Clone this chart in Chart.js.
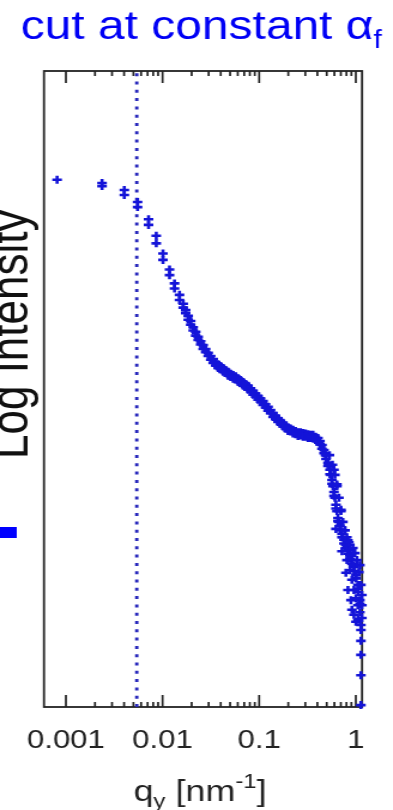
<!DOCTYPE html>
<html>
<head>
<meta charset="utf-8">
<script src="https://cdn.jsdelivr.net/npm/chart.js@4.4.1/dist/chart.umd.min.js"></script>
<style>
  html, body { margin: 0; padding: 0; background: #fff; overflow: hidden; }
  /* the source slide is stretched sideways, so the canvas is too */
  #chart { display: block; transform: scaleX(1.198); transform-origin: 0 0; }
</style>
</head>
<body>
<canvas id="chart" width="328" height="810"></canvas>
<script>
// q_y [nm^-1] of each measured point
const qValues = [
    0.000811, 0.002366, 0.002366, 0.004022, 0.004022, 0.005516, 0.005516, 0.007166, 0.007166, 0.008608,
    0.008608, 0.01010, 0.01010, 0.01181, 0.01181, 0.01330, 0.01330, 0.01498, 0.01498,
    // upper side of the dense band
    0.01636, 0.01737, 0.01843, 0.01956, 0.02076, 0.02203, 0.02337, 0.02481, 0.02633, 0.02795,
    0.02966, 0.03148, 0.03341, 0.03546, 0.03763, 0.03993, 0.04238, 0.04498, 0.04774, 0.05066,
    0.05377, 0.05706, 0.06056, 0.06427, 0.06821, 0.07239, 0.07682, 0.08153, 0.08652, 0.09182,
    0.09741, 0.1034, 0.1097, 0.1164, 0.1236, 0.1311, 0.1392, 0.1477, 0.1567, 0.1664,
    0.1765, 0.1873, 0.1988, 0.2110, 0.2239, 0.2377, 0.2522, 0.2677, 0.2841, 0.3015,
    0.3200, 0.3396, 0.3604, 0.3825, 0.4060, 0.4257, 0.4465, 0.4683, 0.4911, 0.5150,
    0.5401, 0.5664, 0.5940, 0.6229, 0.6533, 0.6851, 0.7185, 0.7535, 0.7902, 0.8287,
    0.8691, 0.9114, 0.9558, 1.0024, 1.0512, 1.1025,
    // lower side of the dense band
    0.01636, 0.01737, 0.01843, 0.01956, 0.02076, 0.02203, 0.02337, 0.02481, 0.02633, 0.02795,
    0.02966, 0.03148, 0.03341, 0.03546, 0.03763, 0.03993, 0.04238, 0.04498, 0.04774, 0.05066,
    0.05377, 0.05706, 0.06056, 0.06427, 0.06821, 0.07239, 0.07682, 0.08153, 0.08652, 0.09182,
    0.09741, 0.1034, 0.1097, 0.1164, 0.1236, 0.1311, 0.1392, 0.1477, 0.1567, 0.1664,
    0.1765, 0.1873, 0.1988, 0.2110, 0.2239, 0.2377, 0.2522, 0.2677, 0.2841, 0.3015,
    0.3200, 0.3396, 0.3604, 0.3825, 0.4060, 0.4257, 0.4465, 0.4683, 0.4911, 0.5150,
    0.5401, 0.5664, 0.5940, 0.6229, 0.6533, 0.6851, 0.7185, 0.7535, 0.7902, 0.8287,
    0.8691, 0.9114, 0.9558, 1.0024, 1.0512, 1.1025,
    // steep drop after the shoulder
    0.4853, 0.5210, 0.5531, 0.5800, 0.6083, 0.6378, 0.6688, 0.7017, 0.7357, 0.7902,
    0.8691, 0.9445, 1.0024, 1.0512,
    0.5337, 0.5732, 0.6083, 0.6378, 0.6688, 0.7017, 0.7357, 0.7718, 0.8090, 0.8691,
    // noisy tail near q = 1
    0.594, 0.6378, 0.7017, 0.6229, 0.7718, 0.7185, 0.8287,
    0.790, 0.809, 0.8287, 0.8486, 0.8691, 0.8899, 0.9114, 0.9114, 0.9333, 0.9558,
    0.9558, 0.9788, 1.0024, 1.0024, 1.0265, 1.0512, 1.0512, 1.0765, 1.1025, 1.1025,
    1.129, 1.129, 1.129, 1.129, 1.129, 1.129, 1.129, 1.156, 1.156, 1.156,
];
// log intensity, arbitrary units (no scale shown on the slide)
const logIntensity = [
    8.29, 8.24, 8.19, 8.13, 8.05, 7.94, 7.86, 7.67, 7.58, 7.41,
    7.29, 7.13, 7.03, 6.88, 6.79, 6.66, 6.58, 6.48, 6.40,
    6.34, 6.24, 6.15, 6.07, 5.97, 5.90, 5.82, 5.75, 5.69, 5.63,
    5.57, 5.52, 5.47, 5.42, 5.39, 5.36, 5.33, 5.30, 5.27, 5.24,
    5.22, 5.20, 5.17, 5.14, 5.11, 5.08, 5.05, 5.01, 4.97, 4.93,
    4.89, 4.85, 4.81, 4.76, 4.72, 4.67, 4.62, 4.58, 4.54, 4.50,
    4.47, 4.43, 4.40, 4.38, 4.36, 4.34, 4.32, 4.32, 4.31, 4.30,
    4.29, 4.28, 4.28, 4.25, 4.23, 4.18, 4.12, 4.04, 3.96, 3.84,
    3.73, 3.57, 3.38, 3.18, 2.97, 2.85, 2.72, 2.63, 2.55, 2.47,
    2.39, 2.31, 2.20, 2.08, 1.92, 1.68,
    6.28, 6.19, 6.09, 6.01, 5.92, 5.84, 5.77, 5.70, 5.63, 5.58,
    5.52, 5.46, 5.41, 5.37, 5.33, 5.31, 5.27, 5.25, 5.21, 5.19,
    5.16, 5.15, 5.11, 5.09, 5.05, 5.03, 4.99, 4.96, 4.91, 4.88,
    4.83, 4.80, 4.75, 4.71, 4.66, 4.62, 4.56, 4.53, 4.48, 4.45,
    4.41, 4.38, 4.34, 4.33, 4.30, 4.29, 4.26, 4.27, 4.25, 4.25,
    4.23, 4.23, 4.22, 4.20, 4.17, 4.13, 4.06, 3.99, 3.90, 3.79,
    3.66, 3.51, 3.32, 3.12, 2.92, 2.79, 2.67, 2.57, 2.50, 2.41,
    2.33, 2.25, 2.14, 2.02, 1.86, 1.62,
    3.96, 3.81, 3.65, 3.47, 3.29, 3.08, 2.91, 2.78, 2.67, 2.55,
    2.39, 2.22, 2.03, 1.81,
    3.96, 3.81, 3.65, 3.47, 3.29, 3.08, 2.91, 2.78, 2.67, 2.55,
    3.73, 3.50, 3.10, 2.80, 2.78, 2.45, 2.62,
    2.11, 2.31, 1.84, 2.59, 2.15, 1.68, 2.00, 1.53, 2.50, 1.84,
    1.45, 2.42, 1.71, 1.34, 2.31, 1.60, 1.37, 2.12, 1.49, 2.23,
    1.92, 1.29, 1.21, 1.04, 0.82, 0.50, 0.03, 1.76, 1.40, 1.60,
];
const cutQ = 0.00541; // position of the alpha_f cut
const tickValues = [0.001, 0.01, 0.1, 1];
const tickLabels = ['0.001', '0.01', '0.1', '1'];
const minorSteps = [2, 3, 4, 5, 6, 7, 8, 9];

const BLUE = '#1414d8';
const INK = '#222222';
const FONT = '"Liberation Sans", Arial, sans-serif';

Chart.defaults.font.family = FONT;

const points = qValues.map((q, i) => ({ x: q, y: logIntensity[i] }));

// draw a row of text pieces centred on cx, each piece may be raised or lowered
const drawRich = (ctx, parts, cx, baseline) => {
    let total = 0;
    parts.forEach((p) => {
        ctx.font = `${p.size}px ${FONT}`;
        p.w = ctx.measureText(p.text).width;
        total += p.w;
    });
    let x = cx - total / 2;
    parts.forEach((p) => {
        ctx.font = `${p.size}px ${FONT}`;
        ctx.fillText(p.text, x, baseline + (p.dy || 0));
        x += p.w;
    });
};

const decor = {
    id: 'decor',
    beforeDatasetsDraw(chart) {
        const { ctx, chartArea: a, scales: { x } } = chart;
        ctx.save();
        ctx.strokeStyle = INK;
        ctx.lineWidth = 1.8;
        ctx.strokeRect(a.left, a.top, a.right - a.left, a.bottom - a.top);
        // gnuplot style ticks, inside, bottom and top
        const tick = (v, len) => {
            const px = x.getPixelForValue(v);
            ctx.beginPath();
            ctx.moveTo(px, a.bottom);
            ctx.lineTo(px, a.bottom - len);
            ctx.moveTo(px, a.top);
            ctx.lineTo(px, a.top + len);
            ctx.stroke();
        };
        ctx.lineWidth = 1.7;
        tickValues.forEach((v, i) => {
            tick(v, 12);
            if (i < tickValues.length - 1) minorSteps.forEach((m) => tick(v * m, 5));
        });
        ctx.restore();
    },
    afterDraw(chart) {
        const { ctx } = chart;
        ctx.save();
        ctx.textAlign = 'left';
        ctx.textBaseline = 'alphabetic';
        ctx.fillStyle = '#0000f5';
        drawRich(ctx, [
            { text: 'cut at constant α', size: 40 },
            { text: 'f', size: 25, dy: 9 },
        ], 168, 39);
        ctx.fillStyle = INK;
        drawRich(ctx, [
            { text: 'q', size: 30 },
            { text: 'y', size: 20, dy: 7 },
            { text: ' [nm', size: 30 },
            { text: '-1', size: 20, dy: -13 },
            { text: ']', size: 30 },
        ], 167, 801);
        // piece of an arrow from the slide, cut by the crop
        ctx.fillStyle = '#0000ff';
        ctx.fillRect(0, 527, 14, 11);
        ctx.translate(23.4, 459);
        ctx.rotate(-Math.PI / 2);
        ctx.font = `44px ${FONT}`;
        ctx.fillStyle = '#111111';
        ctx.fillText('Log Intensity', 0, 0);
        ctx.restore();
    },
};

new Chart(document.getElementById('chart'), {
    type: 'scatter',
    data: {
        datasets: [
            {
                data: points,
                pointStyle: 'cross',
                pointRadius: 4,
                borderColor: BLUE,
                borderWidth: 2.6,
                clip: false,
            },
            {
                type: 'line',
                data: [{ x: cutQ, y: 0 }, { x: cutQ, y: 10 }],
                borderColor: '#2626bb',
                borderWidth: 2.8,
                borderDash: [3, 5.3],
                pointRadius: 0,
                fill: false,
            },
        ],
    },
    options: {
        responsive: false,
        animation: false,
        layout: { padding: { left: 36.7, right: 25.8, top: 71, bottom: 0 } },
        plugins: {
            legend: { display: false },
            tooltip: { enabled: false },
        },
        scales: {
            x: {
                type: 'logarithmic',
                min: 0.000593,
                max: 1.16,
                grid: { display: false, drawTicks: false },
                border: { display: false },
                afterBuildTicks: (axis) => {
                    axis.ticks = tickValues.map((v) => ({ value: v }));
                },
                afterFit: (axis) => {
                    axis.height = 103;
                },
                ticks: {
                    callback: (v, i) => tickLabels[i],
                    color: INK,
                    font: { size: 26 },
                    padding: 18,
                    maxRotation: 0,
                    autoSkip: false,
                },
            },
            y: { display: false, min: 0, max: 10 },
        },
    },
    plugins: [decor],
});
</script>
</body>
</html>
